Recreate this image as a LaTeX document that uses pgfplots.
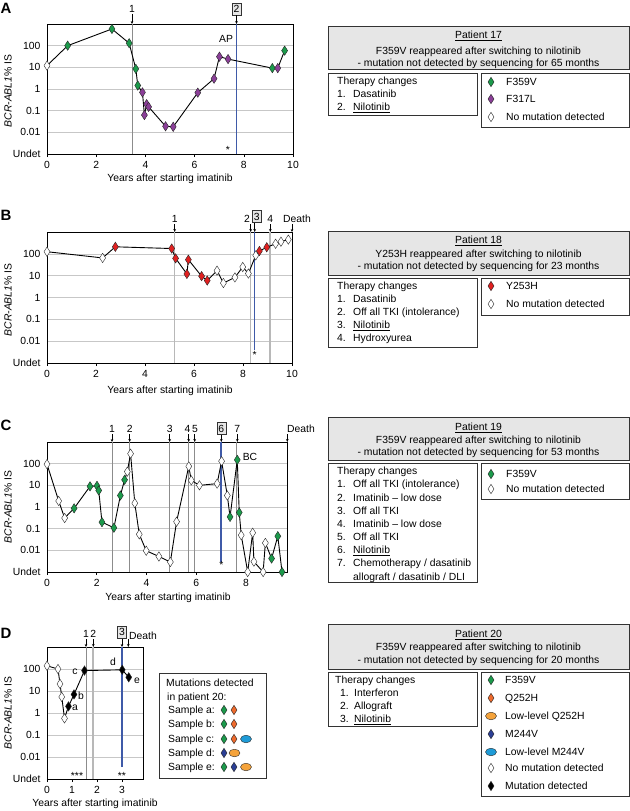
\documentclass[border=0pt]{standalone}
\usepackage{fontspec}
\setmainfont{Liberation Sans}
\usepackage{pgfplots}
\pgfplotsset{compat=1.18}
\usetikzlibrary{arrows.meta}
\definecolor{mgreen}{HTML}{1B9A4B}
\definecolor{mpurple}{HTML}{8B3F98}
\definecolor{mred}{HTML}{E02020}
\definecolor{morange}{HTML}{EE6A2C}
\definecolor{mlorange}{HTML}{F5A33B}
\definecolor{mblue}{HTML}{2B3F96}
\definecolor{mlblue}{HTML}{1E9BD7}
\definecolor{vblue}{HTML}{3F5AA8}
\definecolor{boxgray}{HTML}{E6E6E6}
\newcommand{\Tx}[3]{\node[anchor=base west,inner sep=0pt] at ({#1},{-(#2)-3.7}) {#3};}
\newcommand{\Cx}[3]{\node[anchor=base,inner sep=0pt] at ({#1},{-(#2)-3.7}) {#3};}
\newcommand{\Dm}[3]{\path[draw=black!85,line width=0.4bp,fill=#3] ({#1},{-(#2)+4.7}) -- ({#1+3},{-(#2)}) -- ({#1},{-(#2)-4.7}) -- ({#1-3},{-(#2)}) -- cycle;}
\newcommand{\El}[3]{\path[draw=black!85,line width=0.4bp,fill=#3] ({#1},{-(#2)}) ellipse [x radius=5.5, y radius=3.8];}
\newcommand{\Ar}[3]{\draw[line width=0.5bp,-{Stealth[length=3bp,width=2.6bp]}] ({#1},{-(#2)}) -- ({#1},{-(#3)});}
\newcommand{\Bx}[3]{\node[draw=black!80,fill=boxgray,inner sep=0.5pt,minimum width=9bp,minimum height=12bp,line width=0.5bp] at ({#1},{-(#2)}) {#3};}
\newcommand{\YL}[2]{\node[rotate=90] at ({#1},{-(#2)}) {\textit{BCR-ABL1}\% IS};}
\newcommand{\PL}[3]{\node[anchor=center,inner sep=0pt,font=\bfseries\fontsize{15}{15}\selectfont] at ({#1},{-(#2)}) {#3};}
\pgfplotsset{
 mypanel/.style={
  scale only axis, anchor=south west, clip=false,
  ymin=1e-3, ymax=1e3, xmin=0,
  ytick={1e-3,1e-2,1e-1,1,10,100},
  yticklabels={Undet,0.01,0.1,1,10,100},
  ymajorgrids, grid style={draw=black!22, line width=0.6bp},
  axis line style={line width=0.8bp},
  ytick style={draw=none},
  xtick style={black, line width=0.6bp},
  xtick pos=left, tick align=outside, major tick length=3bp,
  tick label style={font=\fontsize{10.4}{12}\selectfont},
  xticklabel style={yshift=-1bp},
  minor tick num=0,
 },
 myln/.style={black, line width=0.9bp, no marks},
 mydm/.style={only marks, mark=diamond*, mark size=4.7bp, mark options={xscale=0.85, draw=black!85, line width=0.4bp, fill=#1, solid}},
 myvl/.style={black!45, line width=0.7bp, no marks},
 myvw/.style={black!28, line width=1.6bp, no marks},
 myvb/.style={vblue, line width=1.4bp, no marks},
}
\begin{document}
\begin{tikzpicture}[x=1bp,y=1bp,font=\fontsize{10.4}{12.5}\selectfont]
\path[use as bounding box] (0,0) rectangle (630,-811);

% ================= Panel A =================
\begin{semilogyaxis}[mypanel, at={(47bp,-154bp)}, width=246bp, height=130bp, xmax=10,
  xtick={0,2,4,6,8,10}, xticklabels={0,2,4,6,8,10}]
\addplot[myvl] coordinates {(3.46,1e-3)(3.46,1e3)};
\addplot[myvb] coordinates {(7.7,1e-3)(7.7,1e3)};
\addplot[myln] coordinates {(0,12)(0.84,100)(2.64,590)(3.34,130)(3.61,8.5)(3.69,1.45)(3.88,0.7)(3.96,0.063)(4.05,0.2)(4.13,0.15)(4.82,0.019)(5.13,0.018)(6.13,0.68)(6.79,3)(7.01,31)(7.36,24)(9.16,9.2)(9.38,9.2)(9.66,59)};
\addplot[mydm=mgreen] coordinates {(0.84,100)(2.64,590)(3.34,130)(3.61,8.5)(3.69,1.45)(9.16,9.2)(9.66,59)};
\addplot[mydm=mpurple] coordinates {(3.88,0.7)(3.96,0.063)(4.05,0.2)(4.13,0.15)(4.82,0.019)(5.13,0.018)(6.13,0.68)(6.79,3)(7.01,31)(7.36,24)(9.38,9.2)};
\addplot[mydm=white] coordinates {(0,12)};
\end{semilogyaxis}
\PL{6}{8}{A}
\YL{8}{91}
\Cx{170}{178}{Years after starting imatinib}
\Cx{132}{9}{1}\Ar{132}{14}{24}
\Bx{236.5}{9}{2}\Ar{236.5}{15.5}{24}
\Cx{226}{39}{AP}
\Cx{228}{150}{*}

% ================= Panel B =================
\begin{semilogyaxis}[mypanel, at={(47bp,-363bp)}, width=245bp, height=131bp, xmax=10,
  xtick={0,2,4,6,8,10}, xticklabels={0,2,4,6,8,10}]
\addplot[myvw] coordinates {(5.21,1e-3)(5.21,1e3)};
\addplot[myvw] coordinates {(8.31,1e-3)(8.31,1e3)};
\addplot[myvw] coordinates {(9.11,1e-3)(9.11,1e3)};
\addplot[myvb] coordinates {(8.48,0.004)(8.48,1e3)};
\addplot[myln] coordinates {(0,125)(2.27,65)(2.79,210)(5.09,175)(5.25,62)(5.71,12)(5.77,54)(6.31,9.5)(6.54,6)(6.94,17)(7.2,4.6)(7.67,8.3)(7.99,25)(8.22,12.5)(8.52,85)(8.67,135)(8.97,200)(9.33,290)(9.55,360)(9.85,450)};
\addplot[mydm=mred] coordinates {(2.79,210)(5.09,175)(5.25,62)(5.71,12)(5.77,54)(6.31,9.5)(6.54,6)(8.67,135)(8.97,200)};
\addplot[mydm=white] coordinates {(0,125)(2.27,65)(6.94,17)(7.2,4.6)(7.67,8.3)(7.99,25)(8.22,12.5)(8.52,85)(9.33,290)(9.55,360)(9.85,450)};
\end{semilogyaxis}
\PL{6}{215}{B}
\YL{8}{300}
\Cx{170}{390}{Years after starting imatinib}
\Cx{174.7}{219}{1}\Ar{174.7}{224}{232}
\Cx{247}{219}{2}\Ar{250.7}{224}{232}
\Bx{256.7}{216.5}{3}\Ar{254.7}{223}{232}
\Cx{270.3}{219}{4}\Ar{270.3}{224}{232}
\Cx{297}{219}{Death}\Ar{292}{224}{232}
\Cx{254.7}{355}{*}

% ================= Panel C =================
\begin{semilogyaxis}[mypanel, at={(47bp,-572bp)}, width=240bp, height=130bp, xmax=9.65,
  xtick={0,2,4,6,8}, xticklabels={0,2,4,6,8}]
\addplot[myvl] coordinates {(2.61,1e-3)(2.61,1e3)};
\addplot[myvl] coordinates {(3.32,1e-3)(3.32,1e3)};
\addplot[myvl] coordinates {(4.93,1e-3)(4.93,1e3)};
\addplot[myvl] coordinates {(5.69,1e-3)(5.69,1e3)};
\addplot[myvl] coordinates {(5.93,1e-3)(5.93,1e3)};
\addplot[myvl] coordinates {(7.63,1e-3)(7.63,1e3)};
\addplot[myvb] coordinates {(7.0,0.0028)(7.0,1e3)};
\addplot[myln] coordinates {(0,95)(0.47,1.9)(0.71,0.31)(1.09,0.87)(1.73,9)(2.01,9.5)(2.08,5.8)(2.21,0.2)(2.69,0.11)(2.95,3.4)(3.12,18)(3.23,43)(3.36,290)(3.53,1.5)(3.71,0.055)(3.99,0.0096)(4.5,0.0052)(4.96,0.0029)(5.21,0.21)(5.70,75)(5.80,17)(6.13,10)(6.84,12)(7.02,130)(7.25,3.4)(7.36,0.35)(7.65,150)(7.73,0.56)(7.81,0.05)(8.07,0.001)(8.27,0.065)(8.32,0.003)(8.69,0.001)(8.78,0.022)(9.03,0.0042)(9.28,0.045)(9.45,0.001)};
\addplot[mydm=mgreen] coordinates {(1.09,0.87)(1.73,9)(2.01,9.5)(2.08,5.8)(2.21,0.2)(2.69,0.11)(2.95,3.4)(3.12,18)(7.36,0.35)(7.65,150)(7.73,0.56)(9.03,0.0042)(9.28,0.045)(9.45,0.001)};
\addplot[mydm=white] coordinates {(0,95)(0.47,1.9)(0.71,0.31)(3.23,43)(3.36,290)(3.53,1.5)(3.71,0.055)(3.99,0.0096)(4.5,0.0052)(4.96,0.0029)(5.21,0.21)(5.70,75)(5.80,17)(6.13,10)(6.84,12)(7.02,130)(7.25,3.4)(7.81,0.05)(8.07,0.001)(8.27,0.065)(8.32,0.003)(8.69,0.001)(8.78,0.022)};
\end{semilogyaxis}
\PL{6}{425}{C}
\YL{8}{507}
\Cx{168}{597}{Years after starting imatinib}
\Cx{112}{429}{1}\Ar{112}{434}{442}
\Cx{129.7}{429}{2}\Ar{129.7}{434}{442}
\Cx{169.7}{429}{3}\Ar{169.7}{434}{442}
\Cx{187.5}{429}{4}\Ar{188.7}{434}{442}
\Cx{195}{429}{5}\Ar{194.7}{434}{442}
\Bx{221.3}{428.5}{6}\Ar{221.3}{435}{442}
\Cx{237.3}{429}{7}\Ar{237.3}{434}{442}
\Cx{301}{429}{Death}\Ar{287.3}{434}{442}
\Cx{250}{457}{BC}
\Cx{221.3}{565}{*}

% ================= Panel D =================
\begin{semilogyaxis}[mypanel, at={(47bp,-779bp)}, width=96bp, height=132bp, xmax=3.84,
  xtick={0,1,2,3}, xticklabels={0,1,2,3}]
\addplot[myvl] coordinates {(1.56,1e-3)(1.56,1e3)};
\addplot[myvw] coordinates {(1.85,1e-3)(1.85,1e3)};
\addplot[myvb] coordinates {(3.0,0.0035)(3.0,1e3)};
\addplot[myln] coordinates {(0,140)(0.44,100)(0.52,21)(0.59,5.4)(0.70,0.57)(0.86,2)(1.08,7)(1.5,85)(3.01,92)(3.27,42)};
\addplot[mydm=white] coordinates {(0,140)(0.44,100)(0.52,21)(0.59,5.4)(0.70,0.57)};
\addplot[mydm=black] coordinates {(0.86,2)(1.08,7)(1.5,85)(3.01,92)(3.27,42)};
\end{semilogyaxis}
\PL{6}{633}{D}
\YL{8}{713}
\Cx{95}{803}{Years after starting imatinib}
\Cx{86}{634}{1}\Ar{86}{639}{647}
\Cx{93.3}{634}{2}\Ar{93.3}{639}{647}
\Bx{122}{632}{3}\Ar{122}{638.5}{647}
\node[anchor=base west,inner sep=0pt] at (129,{-636-3.7}) {Death};\Ar{128.3}{639}{647}
\Cx{75}{707}{a}
\Cx{81}{696}{b}
\Cx{75}{671}{c}
\Cx{113}{662}{d}
\Cx{137}{680}{e}
\Cx{77}{776}{***}
\Cx{122}{776}{**}
% mutations box
\draw[black!80,line width=0.6bp] (159,-673) rectangle (266,-778);
\Tx{166}{683}{Mutations detected}
\Tx{167}{697}{in patient 20:}
\Tx{168}{710}{Sample a:}\Dm{224}{710}{mgreen}\Dm{234}{710}{morange}
\Tx{168}{724}{Sample b:}\Dm{224}{724}{mgreen}\Dm{234}{724}{morange}
\Tx{168}{739}{Sample c:}\Dm{224}{739}{mgreen}\Dm{234}{739}{morange}\El{246}{739}{mlblue}
\Tx{168}{753}{Sample d:}\Dm{224}{753}{mblue}\El{234.5}{753}{mlorange}
\Tx{168}{767}{Sample e:}\Dm{224}{767}{mgreen}\Dm{234}{767}{mblue}\El{246}{767}{mlorange}

% ================= Right boxes =================
% Patient 17
\draw[black!80,line width=0.7bp,fill=boxgray] (328,-26) rectangle (629,-69);
\Cx{478.5}{35}{\underline{Patient 17}}
\Cx{478.5}{50.5}{F359V reappeared after switching to nilotinib}
\Cx{478.5}{62.5}{- mutation not detected by sequencing for 65 months}
\draw[black!80,line width=0.7bp] (328,-73) rectangle (477,-115);
\Tx{337}{81}{Therapy changes}
\Tx{337}{94}{1.}\Tx{353}{94}{Dasatinib}
\Tx{337}{107}{2.}\Tx{353}{107}{\underline{Nilotinib}}
\draw[black!80,line width=0.7bp] (481,-73) rectangle (629,-127);
\Dm{491}{82}{mgreen}\Tx{506}{82}{F359V}
\Dm{491}{99}{mpurple}\Tx{506}{99}{F317L}
\Dm{491}{117}{white}\Tx{506}{117}{No mutation detected}

% Patient 18
\draw[black!80,line width=0.7bp,fill=boxgray] (328,-231) rectangle (629,-275);
\Cx{478.5}{240}{\underline{Patient 18}}
\Cx{478.5}{254}{Y253H reappeared after switching to nilotinib}
\Cx{478.5}{266}{- mutation not detected by sequencing for 23 months}
\draw[black!80,line width=0.7bp] (328,-278) rectangle (477,-347);
\Tx{337}{286}{Therapy changes}
\Tx{337}{299}{1.}\Tx{353}{299}{Dasatinib}
\Tx{337}{312}{2.}\Tx{353}{312}{Off all TKI (intolerance)}
\Tx{337}{325}{3.}\Tx{353}{325}{\underline{Nilotinib}}
\Tx{337}{338}{4.}\Tx{353}{338}{Hydroxyurea}
\draw[black!80,line width=0.7bp] (481,-278) rectangle (629,-315);
\Dm{491}{286}{mred}\Tx{506}{286}{Y253H}
\Dm{491}{304}{white}\Tx{506}{304}{No mutation detected}

% Patient 19
\draw[black!80,line width=0.7bp,fill=boxgray] (328,-417) rectangle (629,-460);
\Cx{478.5}{427}{\underline{Patient 19}}
\Cx{478.5}{440}{F359V reappeared after switching to nilotinib}
\Cx{478.5}{452}{- mutation not detected by sequencing for 53 months}
\draw[black!80,line width=0.7bp] (328,-463) rectangle (477,-582);
\Tx{337}{471}{Therapy changes}
\Tx{337}{484}{1.}\Tx{353}{484}{Off all TKI (intolerance)}
\Tx{337}{498}{2.}\Tx{353}{498}{Imatinib -- low dose}
\Tx{337}{511}{3.}\Tx{353}{511}{Off all TKI}
\Tx{337}{524}{4.}\Tx{353}{524}{Imatinib -- low dose}
\Tx{337}{537}{5.}\Tx{353}{537}{Off all TKI}
\Tx{337}{550}{6.}\Tx{353}{550}{\underline{Nilotinib}}
\Tx{337}{563}{7.}\Tx{353}{563}{Chemotherapy / dasatinib}
\Tx{353}{577}{allograft / dasatinib / DLI}
\draw[black!80,line width=0.7bp] (481,-463) rectangle (629,-499);
\Dm{491}{474}{mgreen}\Tx{506}{474}{F359V}
\Dm{491}{489}{white}\Tx{506}{489}{No mutation detected}

% Patient 20
\draw[black!80,line width=0.7bp,fill=boxgray] (328,-624) rectangle (629,-669);
\Cx{478.5}{634}{\underline{Patient 20}}
\Cx{478.5}{647}{F359V reappeared after switching to nilotinib}
\Cx{478.5}{660}{- mutation not detected by sequencing for 20 months}
\draw[black!80,line width=0.7bp] (328,-672) rectangle (477,-726);
\Tx{335}{680}{Therapy changes}
\Tx{340}{693}{1.}\Tx{354}{693}{Interferon}
\Tx{340}{706}{2.}\Tx{354}{706}{Allograft}
\Tx{340}{719}{3.}\Tx{354}{719}{\underline{Nilotinib}}
\draw[black!80,line width=0.7bp] (481,-672) rectangle (629,-796);
\Dm{491}{680}{mgreen}\Tx{505}{680}{F359V}
\Dm{491}{698}{morange}\Tx{505}{698}{Q252H}
\El{491}{716}{mlorange}\Tx{505}{716}{Low-level Q252H}
\Dm{491}{734}{mblue}\Tx{505}{734}{M244V}
\El{491}{752}{mlblue}\Tx{505}{752}{Low-level M244V}
\Dm{491}{768}{white}\Tx{505}{768}{No mutation detected}
\Dm{491}{786}{black}\Tx{505}{786}{Mutation detected}
\end{tikzpicture}
\end{document}
